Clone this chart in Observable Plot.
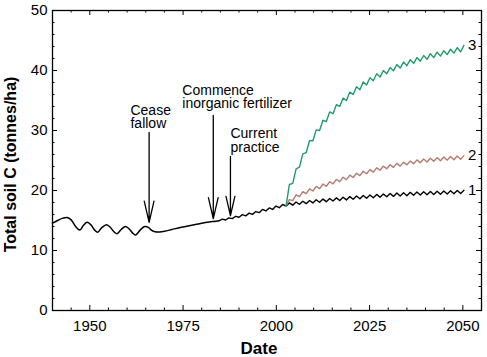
<!DOCTYPE html>
<html>
<head>
<meta charset="utf-8">
<script src="https://cdn.jsdelivr.net/npm/d3@7"></script>
<script src="https://cdn.jsdelivr.net/npm/@observablehq/plot@0.6"></script>
<style>
  html, body { margin: 0; padding: 0; background: #fff; }
  #chart svg { display: block; }
</style>
</head>
<body>
<div id="chart"></div>
<script>
// ---- Data ----
// Series 1 (black), early period 1940-1984 (smooth oscillations)
const yearsEarly = [1940.0, 1941.5, 1942.8, 1943.9, 1945.0, 1946.3, 1947.3, 1948.3, 1949.3, 1950.4,
  1951.3, 1952.1, 1953.2, 1954.5, 1955.6, 1956.5, 1957.3, 1958.4, 1959.6, 1960.7,
  1961.5, 1962.3, 1963.5, 1964.7, 1965.7, 1966.6, 1967.5, 1968.7, 1970.0, 1972.0,
  1974.0, 1976.0, 1978.0, 1980.0, 1982.0, 1983.3, 1984.6];
const soilEarly = [14.55, 15.05, 15.4, 15.5, 15.1, 13.9, 13.4, 14.2, 14.7, 14.2,
  13.4, 13.05, 13.8, 14.3, 13.8, 13.1, 12.8, 13.5, 14.0, 13.5,
  12.9, 12.6, 13.4, 14.0, 13.85, 13.35, 13.12, 13.1, 13.2, 13.5,
  13.8, 14.05, 14.3, 14.55, 14.75, 14.85, 14.95];

// Zig-zag period 1984.6-2050.3 (alternating low/high points)
const yearsZig = [1984.6, 1985.5, 1986.4, 1987.3, 1988.2, 1989.1, 1990.0, 1990.9, 1991.8, 1992.7,
  1993.6, 1994.5, 1995.4, 1996.3, 1997.2, 1998.1, 1999.0, 1999.9, 2000.8, 2001.7,
  2002.6, 2003.5, 2004.4, 2005.3, 2006.2, 2007.1, 2008.0, 2008.9, 2009.8, 2010.7,
  2011.6, 2012.5, 2013.4, 2014.3, 2015.2, 2016.1, 2017.0, 2017.9, 2018.8, 2019.7,
  2020.6, 2021.5, 2022.4, 2023.3, 2024.2, 2025.1, 2026.0, 2026.9, 2027.8, 2028.7,
  2029.6, 2030.5, 2031.4, 2032.3, 2033.2, 2034.1, 2035.0, 2035.9, 2036.8, 2037.7,
  2038.6, 2039.5, 2040.4, 2041.3, 2042.2, 2043.1, 2044.0, 2044.9, 2045.8, 2046.7,
  2047.6, 2048.5, 2049.4, 2050.3];
const soil1Zig = [14.95, 15.22, 15.08, 15.43, 15.31, 15.70, 15.54, 15.97, 15.77, 16.23,
  16.02, 16.49, 16.31, 16.85, 16.6, 17.1, 16.84, 17.41, 17.13, 17.67,
  17.38, 17.93, 17.55, 18.08, 17.69, 18.21, 17.81, 18.33, 17.93, 18.46,
  18.04, 18.57, 18.14, 18.67, 18.24, 18.77, 18.33, 18.88, 18.43, 18.98,
  18.53, 19.08, 18.62, 19.18, 18.7, 19.26, 18.79, 19.35, 18.87, 19.43,
  18.95, 19.51, 19.02, 19.57, 19.08, 19.63, 19.14, 19.69, 19.2, 19.75,
  19.26, 19.8, 19.3, 19.84, 19.34, 19.88, 19.38, 19.92, 19.42, 19.96,
  19.46, 20.0, 19.5, 20.05];

// Scenarios branching at 2002.6 (same years as yearsZig from index 20)
const branchStart = 20;
const soil2 = [17.38, 18.48, 18.32, 19.28, 18.97, 19.8, 19.47, 20.26, 19.92, 20.68,
  20.32, 21.08, 20.7, 21.46, 21.1, 21.84, 21.47, 22.21, 21.82, 22.56,
  22.17, 22.88, 22.49, 23.2, 22.79, 23.48, 23.07, 23.78, 23.37, 24.06,
  23.62, 24.3, 23.85, 24.52, 24.07, 24.73, 24.27, 24.92, 24.45, 25.1,
  24.62, 25.25, 24.75, 25.37, 24.87, 25.48, 24.97, 25.58, 25.06, 25.66,
  25.14, 25.74, 25.22, 25.81];
const soil3 = [17.38, 21.0, 21.2, 23.6, 23.9, 26.1, 26.3, 28.3, 28.3, 30.1,
  30.0, 31.7, 31.5, 33.1, 32.8, 34.3, 34.0, 35.4, 35.0, 36.4,
  36.0, 37.3, 36.8, 38.1, 37.6, 38.8, 38.3, 39.45, 38.9, 40.0,
  39.45, 40.5, 39.95, 41.0, 40.4, 41.4, 40.8, 41.8, 41.2, 42.15,
  41.55, 42.5, 41.85, 42.8, 42.15, 43.05, 42.4, 43.3, 42.65, 43.55,
  42.9, 43.8, 43.1, 44.2];
const seriesNames = ["1", "2", "3"];

// Annotations (in data units)
const annoText = ["Cease\nfallow", "Commence\ninorganic fertilizer", "Current\npractice"];
const annoTextYear = [1960.9, 1974.8, 1987.7];
const annoTextTop = [34.2, 37.5, 30.3];
const arrowYear = [1965.9, 1983.1, 1987.7];
const arrowTop = [29.7, 32.5, 25.7];
const arrowTip = [14.7, 15.3, 15.8];

// Axis ticks
const xMajor = [1950, 1975, 2000, 2025, 2050];
const xMinor = [1945, 1955, 1960, 1965, 1970, 1980, 1985, 1990, 1995, 2005, 2010, 2015, 2020, 2030, 2035, 2040, 2045];
const yMajor = [0, 10, 20, 30, 40, 50];
const yMinor = [2, 4, 6, 8, 12, 14, 16, 18, 22, 24, 26, 28, 32, 34, 36, 38, 42, 44, 46, 48];
const xLabel = "Date";
const yLabel = "Total soil C (tonnes/ha)";

// ---- Build tables ----
const early = yearsEarly.map((year, i) => ({year, soil: soilEarly[i]}));
const zig1 = yearsZig.map((year, i) => ({year, soil: soil1Zig[i]}));
const branchYears = yearsZig.slice(branchStart);
const zig2 = branchYears.map((year, i) => ({year, soil: soil2[i]}));
const zig3 = branchYears.map((year, i) => ({year, soil: soil3[i]}));
const endLabels = [
  {year: yearsZig[yearsZig.length - 1], soil: soil1Zig[soil1Zig.length - 1], name: seriesNames[0]},
  {year: branchYears[branchYears.length - 1], soil: soil2[soil2.length - 1], name: seriesNames[1]},
  {year: branchYears[branchYears.length - 1], soil: soil3[soil3.length - 1], name: seriesNames[2]}
];
const texts = annoText.map((t, i) => ({t, year: annoTextYear[i], top: annoTextTop[i]}));
const arrows = arrowYear.map((year, i) => ({year, top: arrowTop[i], tip: arrowTip[i]}));

const W = 487, H = 357, mL = 52, mR = 6, mT = 10, mB = 47;
const plotW = W - mL - mR, plotH = H - mT - mB;
const major = 5, minor = 2.5;

const chart = Plot.plot({
  width: W,
  height: H,
  marginLeft: mL,
  marginRight: mR,
  marginTop: mT,
  marginBottom: mB,
  style: {fontFamily: "Arial, 'Liberation Sans', sans-serif", fontSize: "15px", background: "#fff", color: "#000"},
  x: {domain: [1940, 2055], label: null},
  y: {domain: [0, 50], label: null},
  marks: [
    // ticks (inward, on all four sides)
    Plot.ruleX(xMajor, {insetTop: plotH - major, stroke: "black", strokeWidth: 1}),
    Plot.ruleX(xMajor, {insetBottom: plotH - major, stroke: "black", strokeWidth: 1}),
    Plot.ruleX(xMinor, {insetTop: plotH - minor, stroke: "black", strokeWidth: 1}),
    Plot.ruleX(xMinor, {insetBottom: plotH - minor, stroke: "black", strokeWidth: 1}),
    Plot.ruleY(yMajor, {insetRight: plotW - major, stroke: "black", strokeWidth: 1}),
    Plot.ruleY(yMajor, {insetLeft: plotW - major, stroke: "black", strokeWidth: 1}),
    Plot.ruleY(yMinor, {insetRight: plotW - minor, stroke: "black", strokeWidth: 1}),
    Plot.ruleY(yMinor, {insetLeft: plotW - minor, stroke: "black", strokeWidth: 1}),
    Plot.axisX({ticks: xMajor, tickSize: 0, tickPadding: 10, tickFormat: "d", fontSize: 15, label: null}),
    Plot.axisY({ticks: yMajor, tickSize: 0, tickPadding: 5, tickFormat: "d", fontSize: 15, label: null}),
    Plot.frame({stroke: "black", strokeWidth: 1.3}),
    // series
    Plot.line(early, {x: "year", y: "soil", stroke: "black", strokeWidth: 1.5, curve: "catmull-rom"}),
    Plot.line(zig1, {x: "year", y: "soil", stroke: "black", strokeWidth: 1.4}),
    Plot.line(zig2, {x: "year", y: "soil", stroke: "#b47b6f", strokeWidth: 1.4}),
    Plot.line(zig3, {x: "year", y: "soil", stroke: "#1f9b6b", strokeWidth: 1.4}),
    Plot.text(endLabels, {x: "year", y: "soil", text: "name", dx: 4, textAnchor: "start", fontSize: 15, fill: "black"}),
    // annotations
    Plot.arrow(arrows, {x1: "year", x2: "year", y1: "top", y2: "tip", stroke: "black", strokeWidth: 1.3, headLength: 25, headAngle: 26}),
    Plot.text(texts, {x: "year", y: "top", text: "t", textAnchor: "start", lineAnchor: "top", lineHeight: 0.96, fontSize: 14, fill: "black"}),
    // axis titles
    Plot.text([xLabel], {frameAnchor: "bottom", dy: 37.8, dx: -8, fontWeight: "bold", fontSize: 17, lineAnchor: "middle", fill: "black"}),
    Plot.text([yLabel], {frameAnchor: "left", rotate: -90, dx: -42, dy: 4, fontWeight: "bold", fontSize: 16, lineAnchor: "middle", textAnchor: "middle", fill: "black"})
  ]
});
document.getElementById("chart").appendChild(chart);
</script>
</body>
</html>
